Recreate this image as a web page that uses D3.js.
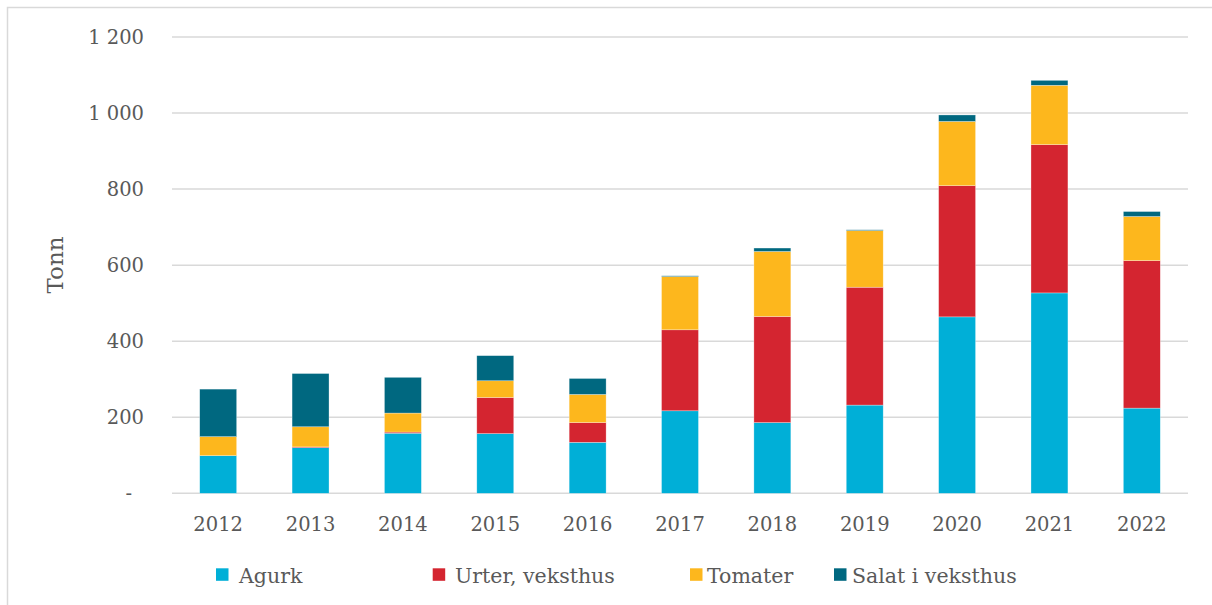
<!DOCTYPE html>
<html>
<head>
<meta charset="utf-8">
<script src="https://cdn.jsdelivr.net/npm/d3@7"></script>
<style>
  html, body { margin: 0; padding: 0; background: #fff; }
  svg { display: block; }
  text { font-family: "DejaVu Serif", "Liberation Serif", serif; fill: #595959; }
</style>
</head>
<body>
<svg id="chart" width="1212" height="605"></svg>
<script>
// Production per year, tonnes
const years   = ["2012","2013","2014","2015","2016","2017","2018","2019","2020","2021","2022"];
const agurk   = [99, 120, 158, 157, 134, 217, 186, 232, 464, 527, 224];
const urter   = [0, 2, 3, 95, 52, 213, 279, 310, 345, 390, 388];
const tomater = [50, 53, 50, 44, 74, 140, 171, 149, 169, 156, 116];
const salat   = [125, 140, 94, 66, 42, 2, 9, 2, 17, 13, 13];

const seriesNames  = ["Agurk", "Urter, veksthus", "Tomater", "Salat i veksthus"];
const seriesColors = ["#00AFD7", "#D42530", "#FDB71D", "#006880"];
const yTicks = [0, 200, 400, 600, 800, 1000, 1200];

const rows = years.map((y, i) => ({
  year: y, "Agurk": agurk[i], "Urter, veksthus": urter[i],
  "Tomater": tomater[i], "Salat i veksthus": salat[i]
}));

const svg = d3.select("#chart");

// outer frame
svg.append("rect")
  .attr("x", 7.5).attr("y", 7.5)
  .attr("width", 1230).attr("height", 640)
  .attr("fill", "none").attr("stroke", "#d9d9d9").attr("stroke-width", 1.5);

const x = d3.scaleBand().domain(years).range([172, 1188])
  .paddingInner(0.6).paddingOuter(0.3);
const y = d3.scaleLinear().domain([0, 1200]).range([493.3, 37]);

const locale = d3.formatLocale({ decimal: ",", thousands: "\u00a0", grouping: [3], currency: ["", ""] });
const fmt = locale.format(",d");

// gridlines
svg.append("g").selectAll("line").data(yTicks).join("line")
  .attr("x1", 172).attr("x2", 1188)
  .attr("y1", d => y(d)).attr("y2", d => y(d))
  .attr("stroke", "#d9d9d9").attr("stroke-width", 1.5);

// y axis labels
const yAxis = d3.axisLeft(y).tickValues(yTicks)
  .tickFormat(d => d === 0 ? "-" : fmt(d)).tickSize(0).tickPadding(0);
const gy = svg.append("g").attr("transform", "translate(144,0)").call(yAxis);
gy.select(".domain").remove();
gy.selectAll("text")
  .attr("font-family", "DejaVu Serif, serif")
  .attr("font-size", 19.5).attr("fill", "#595959")
  .attr("dx", d => d === 0 ? -12 : 0);

// x axis labels
const xAxis = d3.axisBottom(x).tickSize(0).tickPadding(0);
const gx = svg.append("g").attr("transform", "translate(0,517)").call(xAxis);
gx.select(".domain").remove();
gx.selectAll("text")
  .attr("font-family", "DejaVu Serif, serif")
  .attr("font-size", 19.5).attr("fill", "#595959");

// stacked bars
const stacked = d3.stack().keys(seriesNames)(rows);
const color = d3.scaleOrdinal().domain(seriesNames).range(seriesColors);

svg.append("g").selectAll("g").data(stacked).join("g")
  .attr("fill", d => color(d.key))
  .selectAll("rect").data(d => d).join("rect")
  .attr("x", d => x(d.data.year))
  .attr("width", x.bandwidth())
  .attr("y", d => y(d[1]))
  .attr("height", d => y(d[0]) - y(d[1]))
  .attr("stroke", "#ffffff").attr("stroke-opacity", 0.5).attr("stroke-width", 0.6);

// axis title
svg.append("text")
  .attr("transform", "translate(63,265) rotate(-90)")
  .attr("text-anchor", "middle")
  .attr("font-size", 23)
  .text("Tonn");

// legend
const legendPos = [
  { sx: 216, tx: 239 },
  { sx: 432.7, tx: 455 },
  { sx: 690, tx: 707 },
  { sx: 834, tx: 852 }
];
const lg = svg.append("g").selectAll("g").data(seriesNames).join("g");
lg.append("rect")
  .attr("x", (d, i) => legendPos[i].sx).attr("y", 568.3)
  .attr("width", 12.5).attr("height", 12.5)
  .attr("fill", d => color(d));
lg.append("text")
  .attr("x", (d, i) => legendPos[i].tx).attr("y", 582.5)
  .attr("font-size", 20.5)
  .text(d => d);
</script>
</body>
</html>
